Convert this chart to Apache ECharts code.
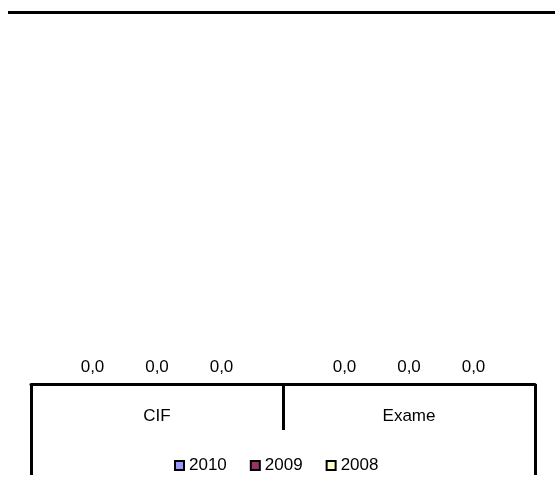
<!DOCTYPE html>
<html>
<head>
<meta charset="utf-8">
<script src="https://cdn.jsdelivr.net/npm/echarts@6/dist/echarts.min.js"></script>
<style>
  html, body { margin: 0; padding: 0; background: #fff; }
  #chart { width: 555px; height: 485px; }
</style>
</head>
<body>
<div id="chart"></div>
<script>
// Categories and yearly values
const categories = ['CIF', 'Exame'];
const years = ['2010', '2009', '2008'];
const values2010 = [0, 0];
const values2009 = [0, 0];
const values2008 = [0, 0];
const yearColors = ['#9999FF', '#993366', '#FFFFCC'];

const FONT = '"Liberation Sans", Arial, sans-serif';
const seriesValues = [values2010, values2009, values2008];

const chart = echarts.init(document.getElementById('chart'), null, { renderer: 'canvas' });

function fmt(v) {
  return Number(v).toFixed(1).replace('.', ',');
}

chart.setOption({
  animation: false,
  backgroundColor: '#ffffff',
  textStyle: { fontFamily: FONT },
  grid: { left: 31, right: 20, top: 13, bottom: 101 },
  legend: {
    data: years,
    left: 169,
    top: 452,
    itemWidth: 9,
    itemHeight: 9,
    itemGap: 23,
    icon: 'rect',
    textStyle: { fontFamily: FONT, fontSize: 17, color: '#000' },
    itemStyle: { borderColor: '#000', borderWidth: 2 }
  },
  xAxis: [
    {
      type: 'category',
      position: 'bottom',
      data: categories,
      axisLine: { show: true, lineStyle: { color: '#000', width: 3 } },
      axisTick: { show: true, length: 46, lineStyle: { color: '#000', width: 3 } },
      axisLabel: { color: '#000', fontSize: 17, fontFamily: FONT, margin: 24 }
    },
    {
      type: 'category',
      position: 'bottom',
      data: [''],
      axisLine: { show: false },
      axisTick: { show: true, length: 91, lineStyle: { color: '#000', width: 3 } },
      axisLabel: { show: false }
    }
  ],
  yAxis: {
    type: 'value',
    min: 0,
    max: 1,
    show: false
  },
  series: years.map((y, i) => ({
    name: y,
    type: 'bar',
    xAxisIndex: 0,
    data: seriesValues[i],
    barWidth: 64.5,
    barGap: '0%',
    itemStyle: { color: yearColors[i], borderColor: '#000', borderWidth: 0 },
    label: {
      show: true,
      position: 'top',
      distance: 8,
      color: '#000',
      fontSize: 17,
      fontFamily: FONT,
      formatter: p => fmt(p.value)
    }
  })),
  graphic: [
    {
      type: 'line',
      shape: { x1: 8, y1: 12.5, x2: 555, y2: 12.5 },
      style: { stroke: '#000', lineWidth: 3 }
    }
  ]
});
</script>
</body>
</html>
